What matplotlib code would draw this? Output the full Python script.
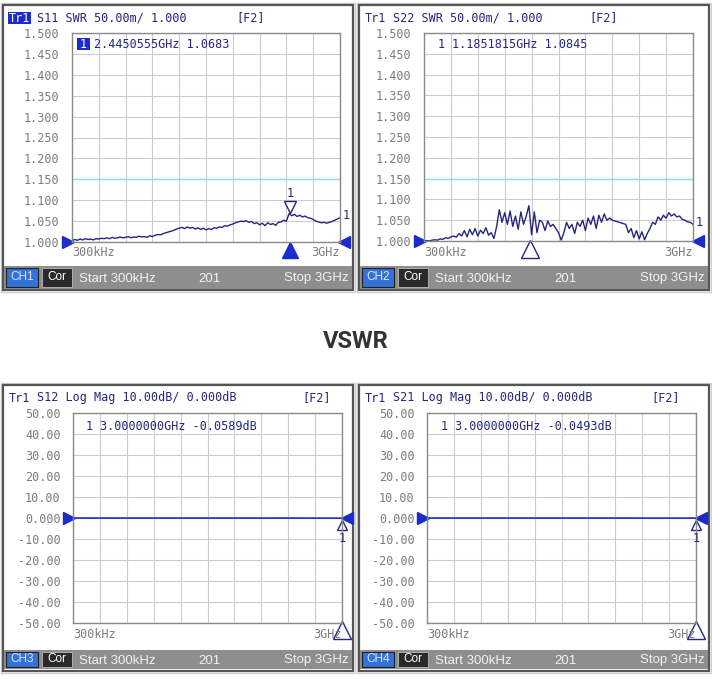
import numpy as np
import matplotlib.pyplot as plt
from matplotlib.patches import Rectangle
from matplotlib.transforms import offset_copy

W, H = 712, 679

# linear sweep 300 kHz .. 3 GHz (GHz)
f_start, f_stop = 0.0003, 3.0

# S11 SWR trace (101 pts)
s11_swr = [1.003, 1.006, 1.004, 1.007, 1.005, 1.008, 1.006, 1.007, 1.005, 1.008, 1.007,
           1.009, 1.008, 1.010, 1.008, 1.011, 1.009, 1.010, 1.012, 1.010, 1.011,
           1.013, 1.010, 1.012, 1.011, 1.014, 1.012, 1.013, 1.011, 1.015, 1.013,
           1.016, 1.018, 1.017, 1.020, 1.022, 1.024, 1.026, 1.028, 1.031, 1.033,
           1.035, 1.032, 1.036, 1.033, 1.035, 1.031, 1.034, 1.030, 1.033, 1.029,
           1.032, 1.030, 1.034, 1.033, 1.036, 1.035, 1.039, 1.038, 1.041, 1.043,
           1.046, 1.048, 1.050, 1.049, 1.051, 1.047, 1.049, 1.044, 1.046, 1.041,
           1.045, 1.039, 1.046, 1.042, 1.044, 1.040, 1.047, 1.048, 1.052, 1.050,
           1.068, 1.063, 1.066, 1.061, 1.064, 1.060, 1.062, 1.058, 1.057, 1.054,
           1.050, 1.048, 1.046, 1.047, 1.045, 1.047, 1.049, 1.052, 1.055, 1.058]

# S22 SWR trace
s22_swr = [1.000, 1.001, 1.000, 1.002, 1.003, 1.002, 1.005,
           1.004, 1.008, 1.006, 1.010, 1.012,
           1.009, 1.018, 1.012, 1.025, 1.010, 1.028, 1.015, 1.030, 1.012, 1.026, 1.018, 1.032, 1.014, 1.020, 1.006,
           1.035,
           1.075, 1.045, 1.068, 1.040, 1.072, 1.035, 1.060, 1.028, 1.070, 1.040, 1.060, 1.085, 1.015, 1.070, 1.020, 1.050,
           1.045, 1.025, 1.048, 1.035, 1.040, 1.030, 1.020, 1.002,
           1.020, 1.045, 1.030, 1.040, 1.018, 1.045, 1.035, 1.050, 1.025, 1.055, 1.040, 1.060, 1.030, 1.062, 1.045, 1.065, 1.050, 1.055,
           1.050, 1.048, 1.046, 1.044, 1.042, 1.040,
           1.020, 1.030, 1.008, 1.025, 1.005, 1.022, 1.003, 1.018,
           1.030, 1.045, 1.040, 1.058, 1.050,
           1.062, 1.055, 1.068, 1.060, 1.065, 1.058, 1.060,
           1.052, 1.050, 1.046, 1.045, 1.040]

# S12 / S21 log mag (dB)
s12_db = [-0.020, -0.030, -0.025, -0.035, -0.030, -0.040, -0.035, -0.045, -0.040, -0.050, -0.0589]
s21_db = [-0.015, -0.020, -0.025, -0.020, -0.030, -0.035, -0.030, -0.040, -0.045, -0.045, -0.0493]

# marker 1 (GHz, value)
mk_s11 = (2.4450555, 1.0683)
mk_s22 = (1.1851815, 1.0845)
mk_s12 = (3.0, -0.0589)
mk_s21 = (3.0, -0.0493)

swr_labels = ['1.000', '1.050', '1.100', '1.150', '1.200', '1.250',
              '1.300', '1.350', '1.400', '1.450', '1.500']
db_labels = ['-50.00', '-40.00', '-30.00', '-20.00', '-10.00', '0.000',
             '10.00', '20.00', '30.00', '40.00', '50.00']

mono = 'DejaVu Sans Mono'
sans = 'Liberation Sans'
NAVY = '#262680'
BLUE = '#1c2ccc'
GRAYTXT = '#7c7c7c'
FS = 8.5
CW = 0.602 * FS * 100 / 72   # mono char width in px

fig = plt.figure(figsize=(W / 100, H / 100), dpi=100)
fig.patch.set_facecolor('white')


def fx(x):
    return x / W


def fy(y):
    return 1 - y / H


def box(x0, y0, x1, y1, **kw):
    kw.setdefault('zorder', -1)
    fig.patches.append(Rectangle((fx(x0), fy(y1)), (x1 - x0) / W, (y1 - y0) / H,
                                 transform=fig.transFigure, **kw))


def txt(x, y, s, **kw):
    kw.setdefault('va', 'center')
    fig.text(fx(x), fy(y), s, **kw)


def panel(frame, plot, status, header, fkey_x, ch, ylim, ylabels, active=False):
    x0, y0, x1, y1 = frame
    box(x0 - 2, y0 - 2, x1 + 2, y1 + 2, facecolor='none', edgecolor='#cfcfcf', lw=1.0)
    box(x0, y0, x1, y1, facecolor='white', edgecolor='#555555', lw=1.6)
    sy0, sy1 = status
    box(x0 + 1, sy0, x1 - 1, sy1, facecolor='#8e8e8e', edgecolor='none')
    sm = (sy0 + sy1) / 2
    box(x0 + 3, sy0 + 2, x0 + 35, sy1 - 2, facecolor='#3572d8', edgecolor='#202020', lw=0.8)
    txt(x0 + 19, sm, ch, ha='center', fontfamily=sans, fontsize=8.5, color='#d8e8ff')
    box(x0 + 39, sy0 + 2, x0 + 69, sy1 - 2, facecolor='#2a2a2a', edgecolor='#bbbbbb', lw=0.6)
    txt(x0 + 54, sm, 'Cor', ha='center', fontfamily=sans, fontsize=8.5, color='white')
    txt(x0 + 76, sm + 1, 'Start 300kHz', fontfamily=sans, fontsize=9.5, color='#f2f2f2')
    txt(x0 + 206, sm + 1, '201', ha='center', fontfamily=sans, fontsize=9.5, color='#f2f2f2')
    txt(x1 - 4, sm + 1, 'Stop 3GHz', ha='right', fontfamily=sans, fontsize=9.5, color='#f2f2f2')

    # header line
    hx, hy = x0 + 6, y0 + 13
    if active:
        box(hx - 1, hy - 6, hx + 3 * CW + 1, hy + 6, facecolor=BLUE, edgecolor='none', zorder=1)
        txt(hx, hy, 'Tr1', fontfamily=mono, fontsize=FS, color='white')
    else:
        txt(hx, hy, 'Tr1', fontfamily=mono, fontsize=FS, color=NAVY)
    txt(hx + 4 * CW, hy, header, fontfamily=mono, fontsize=FS, color=NAVY)
    txt(fkey_x, hy, '[F2]', fontfamily=mono, fontsize=FS, color=NAVY)

    px0, py0, px1, py1 = plot
    ax = fig.add_axes([fx(px0), fy(py1), (px1 - px0) / W, (py1 - py0) / H])
    ax.set_zorder(2)
    ax.set_xlim(f_start, f_stop)
    ax.set_ylim(*ylim)
    ax.set_xticks(np.linspace(f_start, f_stop, 11))
    ax.set_xticklabels([])
    ax.set_yticks(np.linspace(ylim[0], ylim[1], 11))
    ax.set_yticklabels(ylabels, fontfamily=mono, fontsize=FS, color=GRAYTXT)
    ax.tick_params(length=0, pad=9)
    ax.grid(color='#cbcbcb', lw=0.8)
    ax.set_axisbelow(True)
    for s in ax.spines.values():
        s.set_color('#8a8a8a')
        s.set_linewidth(1.0)
    txt(px0, py1 + 11, '300kHz', fontfamily=mono, fontsize=FS, color=GRAYTXT)
    txt(px1, py1 + 11, '3GHz', ha='right', fontfamily=mono, fontsize=FS, color=GRAYTXT)
    # reference level arrows
    ref = ylim[0] if ylim[0] > 0 else 0.0
    ax.plot([f_start], [ref], marker='>', ms=9, color=BLUE, clip_on=False,
            transform=offset_copy(ax.transData, fig=fig, x=-4.5, y=0, units='dots'))
    ax.plot([f_stop], [ref], marker='<', ms=9, color=BLUE, clip_on=False,
            transform=offset_copy(ax.transData, fig=fig, x=4.5, y=0, units='dots'))
    return ax


def trace_end_label(ax, vals):
    ax.text(f_stop, vals[-1], '1', fontfamily=mono, fontsize=FS, color=NAVY,
            va='center', ha='left', clip_on=False,
            transform=offset_copy(ax.transData, fig=fig, x=3, y=2, units='dots'))


# ---- CH1: S11 SWR ----
ax1 = panel((3, 5, 353, 290), (72, 33, 340, 242), (266, 289), 'S11 SWR 50.00m/ 1.000', 236,
            'CH1', (1.0, 1.5), swr_labels, active=True)
ax1.axhline(1.15, color='#8edede', lw=1.0)
ax1.plot(np.linspace(f_start, f_stop, len(s11_swr)), s11_swr, color=NAVY, lw=1.0)
ax1.plot([mk_s11[0]], [mk_s11[1]], marker='v', ms=9, mfc='white', mec=NAVY, mew=1.0, clip_on=False,
         transform=offset_copy(ax1.transData, fig=fig, x=0, y=6, units='dots'))
ax1.text(mk_s11[0], mk_s11[1], '1', fontfamily=mono, fontsize=FS, color=NAVY, ha='center',
         va='center', transform=offset_copy(ax1.transData, fig=fig, x=0, y=20, units='dots'))
ax1.plot([mk_s11[0]], [1.0], marker='^', ms=12, color=BLUE, clip_on=False,
         transform=offset_copy(ax1.transData, fig=fig, x=0, y=-8, units='dots'))
trace_end_label(ax1, s11_swr)
box(77, 38, 90, 50, facecolor=BLUE, edgecolor='none', zorder=3)
txt(80, 44, '1', fontfamily=mono, fontsize=FS, color='white', zorder=4)
txt(80 + 2 * CW, 44, f'{mk_s11[0]:.7f}GHz {mk_s11[1]:.4f}', fontfamily=mono, fontsize=FS, color=NAVY,
    zorder=4)

# ---- CH2: S22 SWR ----
ax2 = panel((359, 5, 709, 290), (424, 33, 693, 241), (266, 289), 'S22 SWR 50.00m/ 1.000', 589,
            'CH2', (1.0, 1.5), swr_labels)
ax2.axhline(1.15, color='#8edede', lw=1.0)
ax2.plot(np.linspace(f_start, f_stop, len(s22_swr)), s22_swr, color=NAVY, lw=1.0)
ax2.plot([mk_s22[0]], [1.0], marker='^', ms=13, mfc='white', mec=NAVY, mew=1.0, clip_on=False,
         transform=offset_copy(ax2.transData, fig=fig, x=0, y=-8, units='dots'))
trace_end_label(ax2, s22_swr)
txt(438, 44, '1', fontfamily=mono, fontsize=FS, color=NAVY, zorder=4)
txt(438 + 2 * CW, 44, f'{mk_s22[0]:.7f}GHz {mk_s22[1]:.4f}', fontfamily=mono, fontsize=FS, color=NAVY,
    zorder=4)

# ---- CH3 / CH4: S12, S21 log mag ----
for frame, plot, name, fkx, ch, vals, mk, rx in [
        ((3, 385, 353, 671), (73, 413, 342, 623), 'S12', 302, 'CH3', s12_db, mk_s12, 86),
        ((359, 385, 709, 671), (427, 413, 696, 623), 'S21', 651, 'CH4', s21_db, mk_s21, 441)]:
    ax = panel(frame, plot, (650, 669), name + ' Log Mag 10.00dB/ 0.000dB', fkx,
               ch, (-50, 50), db_labels)
    ax.plot(np.linspace(f_start, f_stop, len(vals)), vals, color=BLUE, lw=1.2)
    ax.plot([mk[0]], [mk[1]], marker='^', ms=7, mfc='white', mec=NAVY, mew=1.0, clip_on=False,
            transform=offset_copy(ax.transData, fig=fig, x=0, y=-7, units='dots'))
    ax.text(mk[0], mk[1], '1', fontfamily=mono, fontsize=FS, color=NAVY, ha='center', va='center',
            clip_on=False, transform=offset_copy(ax.transData, fig=fig, x=0, y=-20, units='dots'))
    ax.plot([mk[0]], [-50], marker='^', ms=13, mfc='white', mec=NAVY, mew=1.0, clip_on=False,
            transform=offset_copy(ax.transData, fig=fig, x=0, y=-7, units='dots'))
    txt(rx, 426, '1', fontfamily=mono, fontsize=FS, color=NAVY, zorder=4)
    txt(rx + 2 * CW, 426, f'{mk[0]:.7f}GHz {mk[1]:.4f}dB', fontfamily=mono, fontsize=FS, color=NAVY,
        zorder=4)

txt(356, 342, 'VSWR', ha='center', fontfamily='Roboto', fontweight='bold', fontsize=17, color='#333333')

fig.savefig('out.png', dpi=100, facecolor='white')
